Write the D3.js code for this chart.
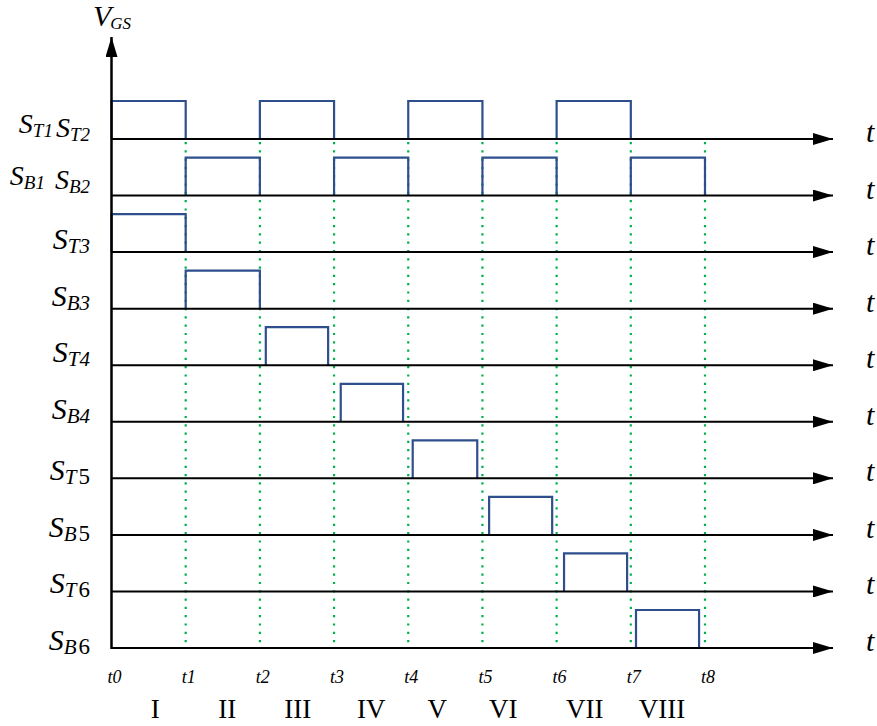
<!DOCTYPE html>
<html>
<head>
<meta charset="utf-8">
<script src="https://cdn.jsdelivr.net/npm/d3@7"></script>
<style>
  body { margin: 0; background: #fff; }
  svg { display: block; }
  text { font-family: "Liberation Serif", "Times New Roman", serif; fill: #000; }
</style>
</head>
<body>
<div id="chart"></div>
<script>
// ---- data ----
const rowIds = ["ST12", "SB12", "ST3", "SB3", "ST4", "SB4", "ST5", "SB5", "ST6", "SB6"];
// each label: list of [main, subscript]; a space in the subscript means the digit is upright
const rowLabels = [
  [["S", "T1"], ["S", "T2"]],
  [["S", "B1"], ["S", "B2"]],
  [["S", "T3"]],
  [["S", "B3"]],
  [["S", "T4"]],
  [["S", "B4"]],
  [["S", "T 5"]],
  [["S", "B 5"]],
  [["S", "T 6"]],
  [["S", "B 6"]]
];
// gate pulses, [start, end] in units of the t0..t8 interval
const pulsesST12 = [[0, 1], [2, 3], [4, 5], [6, 7]];
const pulsesSB12 = [[1, 2], [3, 4], [5, 6], [7, 8]];
const pulsesST3 = [[0, 1]];
const pulsesSB3 = [[1, 2]];
const pulsesST4 = [[2.08, 2.92]];
const pulsesSB4 = [[3.09, 3.93]];
const pulsesST5 = [[4.06, 4.93]];
const pulsesSB5 = [[5.09, 5.94]];
const pulsesST6 = [[6.10, 6.95]];
const pulsesSB6 = [[7.07, 7.92]];
const timeTicks = [0, 1, 2, 3, 4, 5, 6, 7, 8];
const timeTickLabels = ["t0", "t1", "t2", "t3", "t4", "t5", "t6", "t7", "t8"];
const markerTimes = [1, 2, 3, 4, 5, 6, 7, 8];
const phaseLabels = ["I", "II", "III", "IV", "V", "VI", "VII", "VIII"];
const phaseTimes = [0.59, 1.56, 2.51, 3.5, 4.39, 5.28, 6.38, 7.42];

const rowPulses = [pulsesST12, pulsesSB12, pulsesST3, pulsesSB3, pulsesST4,
  pulsesSB4, pulsesST5, pulsesSB5, pulsesST6, pulsesSB6];

// ---- layout ----
const width = 877;
const height = 726;
const x0 = 111.5;
const pulseColor = "#2f4f8c";
const dotColor = "#00b050";

const svg = d3.select("#chart")
  .append("svg")
  .attr("width", width)
  .attr("height", height);

const xScale = d3.scaleLinear().domain([0, 8]).range([x0, 705]);
const yScale = d3.scalePoint().domain(rowIds).range([139, 648]);
const level = d3.scaleLinear().domain([0, 1]).range([0, -38]);

// arrowheads
const defs = svg.append("defs");
defs.append("marker")
  .attr("id", "arrow")
  .attr("viewBox", "0 0 20 12")
  .attr("refX", 20).attr("refY", 6)
  .attr("markerWidth", 20).attr("markerHeight", 12)
  .attr("markerUnits", "userSpaceOnUse")
  .attr("orient", "auto")
  .append("path")
  .attr("d", "M0,0 L20,6 L0,12 Z")
  .attr("fill", "#000");

// green dotted time markers
svg.append("g")
  .selectAll("line")
  .data(markerTimes)
  .join("line")
  .attr("x1", d => xScale(d))
  .attr("x2", d => xScale(d))
  .attr("y1", yScale("ST12") + 3)
  .attr("y2", yScale("SB6"))
  .attr("stroke", dotColor)
  .attr("stroke-width", 2.2)
  .attr("stroke-dasharray", "2.2 6.1");

// pulses
const rows = svg.append("g")
  .selectAll("g")
  .data(rowIds)
  .join("g");

rows.selectAll("path")
  .data((d, i) => rowPulses[i].map(p => ({ row: d, p })))
  .join("path")
  .attr("d", d => {
    const base = yScale(d.row);
    const top = base + level(1);
    const a = xScale(d.p[0]), b = xScale(d.p[1]);
    return `M${a},${base} L${a},${top} L${b},${top} L${b},${base}`;
  })
  .attr("fill", "none")
  .attr("stroke", pulseColor)
  .attr("stroke-width", 2.2);

// time axes (one per row)
rows.append("line")
  .attr("x1", x0)
  .attr("x2", 833)
  .attr("y1", d => yScale(d))
  .attr("y2", d => yScale(d))
  .attr("stroke", "#000")
  .attr("stroke-width", 2)
  .attr("marker-end", "url(#arrow)");

rows.append("text")
  .attr("x", 866)
  .attr("y", d => yScale(d) + 3)
  .attr("font-size", 30)
  .attr("font-style", "italic")
  .text("t");

// row labels
rows.append("text")
  .attr("x", 90)
  .attr("y", (d, i) => yScale(d) + (i === 0 ? -6 : i === 1 ? -11 : i < 6 ? -3 : 2))
  .attr("text-anchor", "end")
  .each(function (d, i) {
    const t = d3.select(this);
    const big = i < 2 ? 28 : 30;
    const small = i < 2 ? 19 : 21;
    rowLabels[i].forEach((seg, k) => {
      t.append("tspan")
        .attr("dx", k === 0 ? 0 : (i === 1 ? 10 : 3))
        .attr("font-size", big)
        .attr("font-style", "italic")
        .text(seg[0]);
      const parts = seg[1].split(" ");
      t.append("tspan")
        .attr("dy", 4)
        .attr("font-size", small)
        .attr("font-style", "italic")
        .text(parts[0]);
      if (parts.length > 1) {
        t.append("tspan")
          .attr("dx", 2)
          .attr("font-size", small + 2)
          .text(parts[1]);
      }
      t.append("tspan").attr("dy", -4).attr("font-size", small).text("");
    });
  });

// vertical V_GS axis
svg.append("line")
  .attr("x1", x0).attr("x2", x0)
  .attr("y1", yScale("SB6") + 1)
  .attr("y2", 37)
  .attr("stroke", "#000")
  .attr("stroke-width", 2.5)
  .attr("marker-end", "url(#arrow)");

const vgs = svg.append("text")
  .attr("x", 93)
  .attr("y", 26)
  .attr("font-style", "italic");
vgs.append("tspan").attr("font-size", 30).text("V");
vgs.append("tspan").attr("font-size", 17).attr("dy", 3).attr("dx", -1).text("GS");

// time instant labels
svg.append("g")
  .selectAll("text")
  .data(timeTicks)
  .join("text")
  .attr("x", d => xScale(d) + 3)
  .attr("y", 683)
  .attr("text-anchor", "middle")
  .attr("font-size", 18)
  .attr("font-style", "italic")
  .text((d, i) => timeTickLabels[i]);

// operating phase labels
svg.append("g")
  .selectAll("text")
  .data(phaseTimes)
  .join("text")
  .attr("x", d => xScale(d))
  .attr("y", 718)
  .attr("text-anchor", "middle")
  .attr("font-size", 27)
  .text((d, i) => phaseLabels[i]);
</script>
</body>
</html>
